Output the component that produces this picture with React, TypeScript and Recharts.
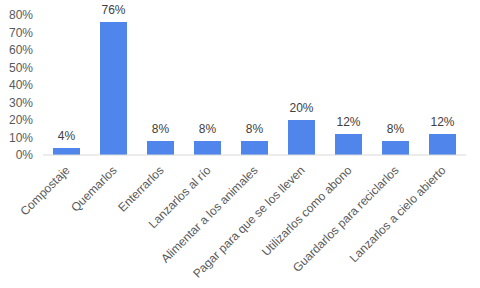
import { BarChart, Bar, XAxis, YAxis, LabelList } from "recharts";

const categories = [
  "Compostaje",
  "Quemarlos",
  "Enterrarlos",
  "Lanzarlos al río",
  "Alimentar a los animales",
  "Pagar para que se los lleven",
  "Utilizarlos como abono",
  "Guardarlos para reciclarlos",
  "Lanzarlos a cielo abierto",
];
const percents = [4, 76, 8, 8, 8, 20, 12, 8, 12];
const yTicks = [0, 10, 20, 30, 40, 50, 60, 70, 80];

const data = categories.map((name, i) => ({ name, value: percents[i] }));

const font = "'Liberation Sans', Arial, sans-serif";

const SlantTick = (props: any) => {
  const { x, y, payload } = props;
  return (
    <g transform={`translate(${x + 4},${y + 8})`}>
      <text
        textAnchor="end"
        transform="rotate(-45)"
        fontSize={12}
        fontFamily={font}
        fill="#595959"
      >
        {payload.value}
      </text>
    </g>
  );
};

const App = () => {
  return (
    <div style={{ position: "absolute", left: 0, top: 0, background: "#fff" }}>
      <BarChart
        width={480}
        height={288}
        data={data}
        margin={{ top: 15, right: 14, left: 0, bottom: 0 }}
        barSize={27}
      >
        <XAxis
          dataKey="name"
          interval={0}
          height={133}
          tick={<SlantTick />}
          tickLine={false}
          axisLine={{ stroke: "#d9d9d9" }}
        />
        <YAxis
          width={43}
          domain={[0, 80]}
          ticks={yTicks}
          interval={0}
          tickFormatter={(v: number) => `${v}%`}
          axisLine={false}
          tickLine={false}
          tickSize={0}
          tickMargin={10}
          tick={{ fontSize: 12, fontFamily: font, fill: "#595959" }}
        />
        <Bar dataKey="value" fill="#5086ec" isAnimationActive={false}>
          <LabelList
            dataKey="value"
            position="top"
            offset={8}
            formatter={(v: any) => `${v}%`}
            style={{ fontSize: 12, fontFamily: font, fill: "#404040" }}
          />
        </Bar>
      </BarChart>
    </div>
  );
};

export default App;
